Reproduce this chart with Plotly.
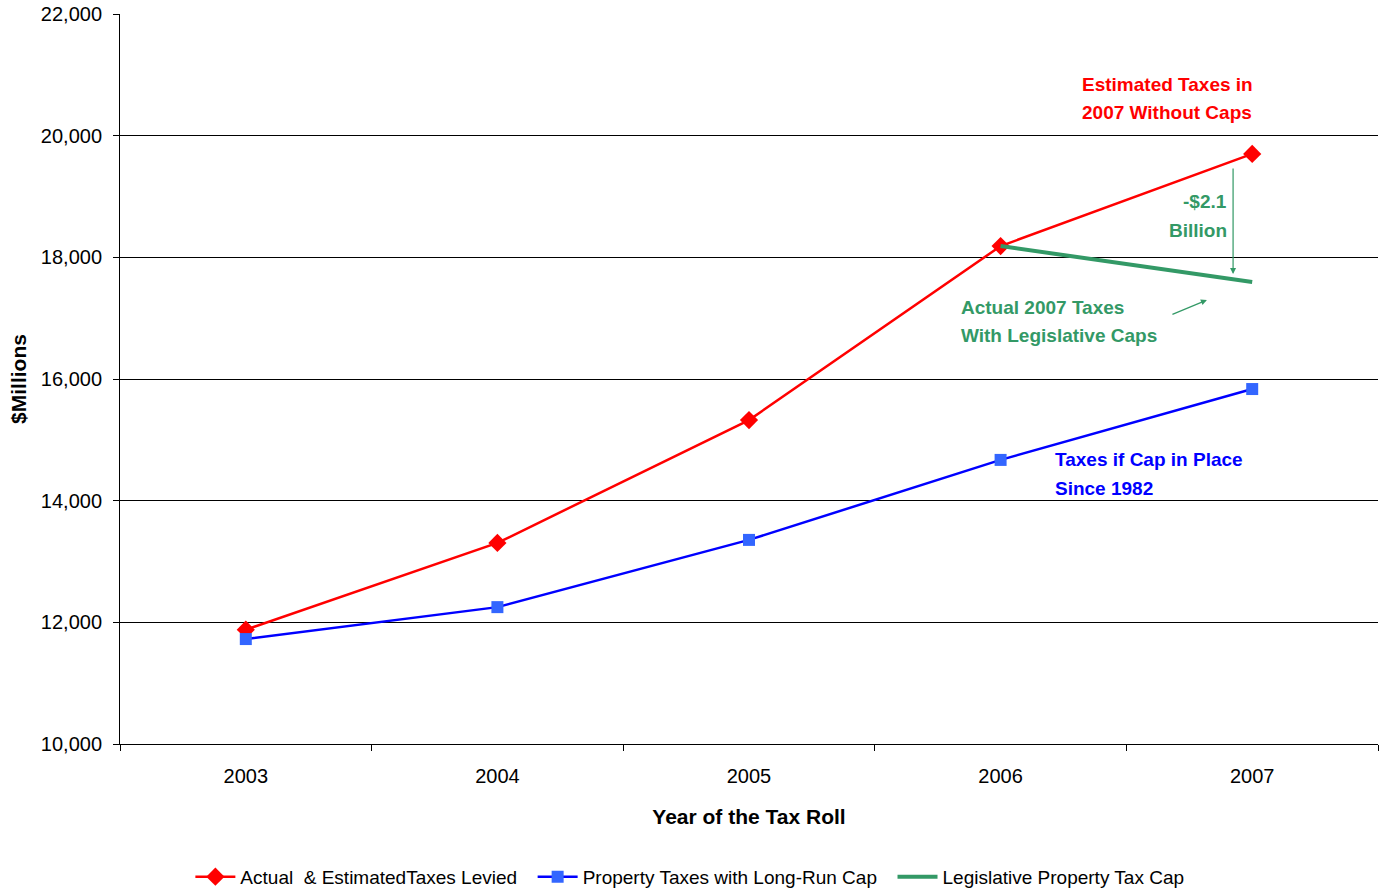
import plotly.graph_objects as go

years = ["2003", "2004", "2005", "2006", "2007"]
actual = [11880, 13305, 15325, 18185, 19700]
longrun = [11725, 12250, 13355, 14670, 15835]
leg_years = ["2006", "2007"]
legislative = [18185, 17595]

RED = "#FF0000"
BLUE = "#0000FF"
BLUEM = "#3366FF"
GREEN = "#339966"
FONT = "Liberation Sans, Arial, sans-serif"

fig = go.Figure()
fig.add_trace(go.Scatter(x=years, y=actual, mode="lines+markers",
                         name="Actual  & EstimatedTaxes Levied  ",
                         line=dict(color=RED, width=2.5),
                         marker=dict(symbol="diamond", size=14, color=RED)))
fig.add_trace(go.Scatter(x=years, y=longrun, mode="lines+markers",
                         name="Property Taxes with Long-Run Cap  ",
                         line=dict(color=BLUE, width=2.5),
                         marker=dict(symbol="square", size=12, color=BLUEM)))
fig.add_trace(go.Scatter(x=leg_years, y=legislative, mode="lines",
                         name="Legislative Property Tax Cap",
                         line=dict(color=GREEN, width=4)))

def txt(x, y, s, color, xanchor="left"):
    fig.add_annotation(x=x, y=y, xref="x", yref="y", text="<b>%s</b>" % s,
                       showarrow=False, xanchor=xanchor, yanchor="middle",
                       font=dict(family=FONT, size=19, color=color))

txt(3.315, 20833, "Estimated Taxes in", RED)
txt(3.315, 20373, "2007 Without Caps", RED)
txt(3.908, 18926, "-$2.1", GREEN, "right")
txt(3.908, 18449, "Billion", GREEN, "right")
txt(2.835, 17183, "Actual 2007 Taxes", GREEN)
txt(2.835, 16707, "With Legislative Caps", GREEN)
txt(3.208, 14685, "Taxes if Cap in Place", BLUE)
txt(3.208, 14208, "Since 1982", BLUE)

fig.add_annotation(x=3.924, y=17726, ax=3.924, ay=19485, xref="x", yref="y",
                   axref="x", ayref="y", showarrow=True, arrowhead=2,
                   arrowsize=1, arrowwidth=1.2, arrowcolor=GREEN, text="")
fig.add_annotation(x=3.82, y=17298, ax=3.677, ay=17052, xref="x", yref="y",
                   axref="x", ayref="y", showarrow=True, arrowhead=2,
                   arrowsize=1, arrowwidth=1.2, arrowcolor=GREEN, text="")

fig.update_layout(
    width=1384, height=892,
    margin=dict(l=120, r=6, t=14, b=148, autoexpand=False),
    plot_bgcolor="white", paper_bgcolor="white",
    font=dict(family=FONT, size=20, color="black"),
    showlegend=True,
    legend=dict(orientation="h", x=0.453, xanchor="center", y=-0.182, yanchor="middle",
                font=dict(family=FONT, size=19, color="black"),
                itemwidth=40, tracegroupgap=0),
)
fig.update_xaxes(type="category", range=[-0.5, 4.5], tickson="boundaries",
                 ticks="outside", ticklen=6, tickcolor="black",
                 showline=True, linecolor="black", linewidth=1,
                 showgrid=False, ticklabelstandoff=14,
                 title=dict(text="<b>Year of the Tax Roll</b>", standoff=23,
                            font=dict(family=FONT, size=21)),
                 tickfont=dict(family=FONT, size=20))
fig.update_yaxes(range=[10000, 22000], dtick=2000, tickformat=",",
                 ticks="outside", ticklen=6, tickcolor="black",
                 showline=True, linecolor="black", linewidth=1,
                 showgrid=True, gridcolor="black", gridwidth=1,
                 zeroline=False, ticklabelstandoff=7,
                 title=dict(text="<b>$Millions</b>", standoff=8,
                            font=dict(family=FONT, size=21)),
                 tickfont=dict(family=FONT, size=20))

fig.write_html("out.html")
